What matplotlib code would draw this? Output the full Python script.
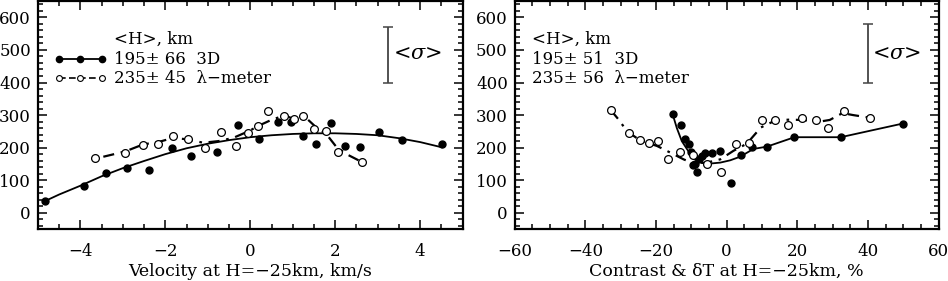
import matplotlib
matplotlib.use("Agg")
import matplotlib.pyplot as plt
from matplotlib.ticker import MultipleLocator

plt.rcParams['font.family'] = ['DejaVu Serif']
plt.rcParams['mathtext.fontset'] = 'dejavuserif'

# ---------------- Left panel data: velocity ----------------
v3d_x = [-4.83, -3.92, -3.40, -2.91, -2.39, -1.84, -1.39, -0.79, -0.28, 0.20,
         0.65, 0.96, 1.25, 1.54, 1.89, 2.23, 2.58, 3.02, 3.58, 4.51]
v3d_y = [37, 83, 122, 138, 132, 199, 173, 188, 270, 225,
         280, 279, 235, 210, 276, 205, 201, 247, 224, 210]

vfit_x = [-4.83, -4.5, -4.0, -3.5, -3.0, -2.5, -2.0, -1.5, -1.0, -0.5, 0.0,
          0.5, 1.0, 1.5, 2.0, 2.5, 3.0, 3.5, 4.0, 4.51]
vfit_y = [36, 56, 83, 112, 137, 159, 180, 198, 212, 223, 232,
          238, 242, 244, 244, 242, 238, 229, 217, 201]

vlm_x = [-3.65, -2.96, -2.52, -2.17, -1.82, -1.46, -1.07, -0.68, -0.34, -0.05,
         0.18, 0.41, 0.79, 1.03, 1.25, 1.50, 1.78, 2.06, 2.62]
vlm_y = [168, 185, 207, 212, 235, 227, 200, 248, 206, 245,
         265, 313, 297, 289, 297, 257, 252, 186, 157]

vline_x = [-3.46, -2.95, -2.52, -2.17, -1.81, -1.46, -1.11, -0.75, -0.40, -0.01,
           0.16, 0.51, 0.81, 1.06, 1.25, 1.53, 1.80, 2.04, 2.31, 2.61]
vline_y = [172, 188, 210, 217, 230, 225, 215, 220, 230, 252,
           265, 286, 299, 286, 299, 265, 240, 200, 177, 157]

# ---------------- Right panel data: contrast ----------------
c3d_x = [-15.3, -12.8, -11.7, -10.8, -10.1, -9.5, -8.9, -8.3, -7.8, -7.0,
         -6.0, -4.1, -1.8, 1.2, 4.0, 7.3, 11.4, 19.2, 32.3, 49.9]
c3d_y = [303, 271, 225, 211, 186, 147, 149, 126, 166, 175,
         182, 185, 190, 91, 178, 201, 203, 232, 234, 274]

cfit_x = [-15.3, -14.1, -12.7, -11.2, -9.8, -8.4, -6.6, -4.7, -1.8, 1.0,
          3.8, 7.6, 11.4, 19.2, 32.3, 49.9]
cfit_y = [303, 260, 220, 195, 174, 159, 152, 151, 154, 161,
          172, 196, 203, 232, 232, 274]

clm_x = [-32.8, -27.6, -24.5, -21.9, -19.5, -16.6, -13.1, -9.4, -5.5, -1.5,
         2.7, 6.4, 9.9, 13.8, 17.5, 21.4, 25.2, 28.7, 33.2, 40.7]
clm_y = [315, 246, 223, 213, 220, 164, 186, 177, 149, 124,
         211, 215, 284, 284, 269, 292, 284, 260, 313, 292]

cline_x = [-32.8, -30.5, -28.2, -24.6, -19.7, -16.0, -12.2, -9.4, -5.6, -1.8,
           1.9, 5.7, 9.7, 13.9, 17.9, 21.2, 26.4, 29.2, 32.8, 35.8, 40.5]
cline_y = [315, 285, 250, 223, 205, 185, 164, 152, 154, 164,
           190, 212, 262, 284, 286, 285, 280, 285, 306, 300, 292]

# legend texts
left_text = ["<H>, km", "195\u00b1 66  3D", "235\u00b1 45  \u03bb\u2212meter"]
right_text = ["<H>, km", "195\u00b1 51  3D", "235\u00b1 56  \u03bb\u2212meter"]
sigma_text = '<$\\sigma$>'

fig = plt.figure(figsize=(9.48, 2.81), dpi=100)
ax1 = fig.add_axes([0.040, 0.185, 0.448, 0.811])
ax2 = fig.add_axes([0.543, 0.185, 0.447, 0.811])

DASHDOT = (0, (5, 3, 1.2, 3))
MS = 5.0

def style(ax):
    ax.set_ylim(-50, 650)
    ax.yaxis.set_major_locator(MultipleLocator(100))
    ax.yaxis.set_minor_locator(MultipleLocator(20))
    ax.tick_params(which='both', direction='in', top=True, right=True,
                   labelsize=12, width=1.1)
    ax.tick_params(which='major', length=6.5)
    ax.tick_params(which='minor', length=3.3)
    ax.tick_params(axis='y', which='major', pad=5)
    ax.tick_params(axis='x', which='major', pad=10)
    for s in ax.spines.values():
        s.set_linewidth(1.6)

# Left
ax1.plot(vfit_x, vfit_y, color='black', lw=1.3)
ax1.plot(vline_x, vline_y, color='black', lw=1.6, linestyle=DASHDOT)
ax1.plot(v3d_x, v3d_y, 'o', color='black', ms=MS)
ax1.plot(vlm_x, vlm_y, 'o', mfc='white', mec='black', mew=0.9, ms=MS + 0.6)
ax1.set_xlim(-5, 5)
ax1.xaxis.set_major_locator(MultipleLocator(2))
ax1.xaxis.set_minor_locator(MultipleLocator(0.5))
style(ax1)
ax1.set_xlabel("Velocity at H=\u221225km, km/s", fontsize=12.5, labelpad=2)

# legend symbols
ax1.plot([-4.51, -4.0, -3.5], [473, 473, 473], '-o', color='black', lw=1.3, ms=4.5)
ax1.plot([-4.51, -4.0, -3.5], [413, 413, 413], 'o', linestyle=(0, (4, 2)),
         color='black', mfc='white', mew=0.8, lw=1.2, ms=4.2)
for i, t in enumerate(left_text):
    ax1.text(-3.22, 532 - 60 * i, t, fontsize=12, va='center', ha='left')

# sigma bar
ax1.errorbar([3.24], [486], yerr=[[86]], fmt='none', ecolor='#444444',
             elinewidth=1.3, capsize=3.5, capthick=1.1)
ax1.text(3.36, 490, sigma_text, fontsize=15, va='center', ha='left')

# Right
ax2.plot(cfit_x, cfit_y, color='black', lw=1.3)
ax2.plot(cline_x, cline_y, color='black', lw=1.6, linestyle=DASHDOT)
ax2.plot(c3d_x, c3d_y, 'o', color='black', ms=MS)
ax2.plot(clm_x, clm_y, 'o', mfc='white', mec='black', mew=0.9, ms=MS + 0.6)
ax2.set_xlim(-60, 60)
ax2.xaxis.set_major_locator(MultipleLocator(20))
ax2.xaxis.set_minor_locator(MultipleLocator(5))
style(ax2)
ax2.set_xlabel("Contrast & \u03b4T at H=\u221225km, %", fontsize=12.5, labelpad=2)
for i, t in enumerate(right_text):
    ax2.text(-55, 532 - 60 * i, t, fontsize=12, va='center', ha='left')
ax2.errorbar([40], [490], yerr=[[90]], fmt='none', ecolor='#444444',
             elinewidth=1.3, capsize=3.5, capthick=1.1)
ax2.text(41.2, 490, sigma_text, fontsize=15, va='center', ha='left')

fig.savefig("out.png", dpi=100)
